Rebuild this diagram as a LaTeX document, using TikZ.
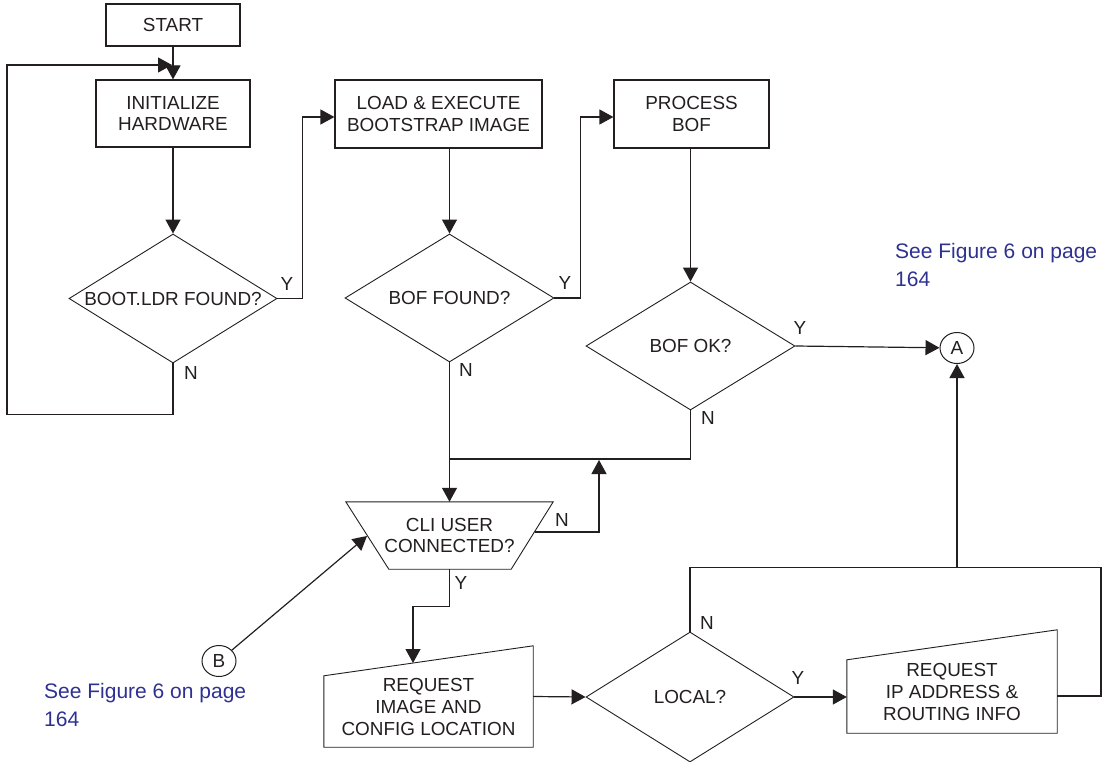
\documentclass[tikz,border=0pt]{standalone}
\usepackage{fontspec}
\setmainfont{Liberation Sans}
\usetikzlibrary{shapes.geometric,arrows.meta,calc}
\definecolor{ink}{RGB}{35,31,32}
\definecolor{refblue}{RGB}{46,49,146}
\begin{document}
\begin{tikzpicture}[x=1pt,y=-1pt,
  every node/.style={font=\fontsize{18.9}{21.7}\selectfont, text=ink},
  line/.style={draw=ink, line width=1.2pt},
  arr/.style={line, -{Triangle[length=14pt,width=15pt]}},
  box/.style={draw=ink, line width=1.2pt, rectangle, align=center, inner sep=0pt},
  dec/.style={draw=ink, line width=0.9pt, diamond, shape aspect=1.6, inner sep=0pt, align=center},
  conn/.style={draw=ink, line width=1pt, ellipse, minimum width=34pt, minimum height=31pt, inner sep=0pt},
  plain/.style={inner sep=0pt, align=center},
  lbl/.style={inner sep=0pt},
  note/.style={font=\fontsize{21}{28}\selectfont, text=refblue, align=left, inner sep=0pt},
  ]
\useasboundingbox (0,0) rectangle (1105,762);

% process boxes
\node[box, minimum width=134pt, minimum height=42pt] (start) at (173,25) {START};
\node[box, minimum width=154pt, minimum height=67pt] (init) at (173,113.5) {INITIALIZE\\HARDWARE};
\node[box, minimum width=207pt, minimum height=68pt] (load) at (438.5,114) {LOAD \& EXECUTE\\BOOTSTRAP IMAGE};
\node[box, minimum width=155pt, minimum height=68pt] (proc) at (691.5,114) {PROCESS\\BOF};

% decisions
\node[dec, minimum width=208pt, minimum height=129pt] (d1) at (173,298.5) {BOOT.LDR FOUND?};
\node[dec, minimum width=209pt, minimum height=128pt] (d2) at (449.5,298) {BOF FOUND?};
\node[dec, minimum width=209pt, minimum height=128pt] (d3) at (690.5,346) {BOF OK?};
\node[dec, minimum width=208pt, minimum height=130pt] (d4) at (690,697) {LOCAL?};

% CLI trapezoid
\node[plain, minimum width=207pt, minimum height=67pt] (cli) at (449.5,535.5) {CLI USER\\CONNECTED?};
\draw[line, line width=0.9pt] (cli.north west) -- (cli.north east) -- ([xshift=-42pt]cli.south east) -- ([xshift=43pt]cli.south west) -- cycle;

% manual input shapes
\node[plain, minimum width=209pt, minimum height=101pt,
  label={[align=center, inner sep=0pt, yshift=-10.5pt]center:REQUEST\\IMAGE AND\\CONFIG LOCATION}] (req1) at (428.5,696.5) {};
\draw[line, line width=0.9pt] (req1.south west) -- (req1.south east) -- (req1.north east) -- ([yshift=-30pt]req1.north west) -- cycle;
\node[plain, minimum width=210pt, minimum height=103pt,
  label={[align=center, inner sep=0pt, yshift=-10.5pt]center:REQUEST\\IP ADDRESS \&\\ROUTING INFO}] (req2) at (952,681.5) {};
\draw[line, line width=0.9pt] (req2.south west) -- (req2.south east) -- (req2.north east) -- ([yshift=-30pt]req2.north west) -- cycle;

% connectors (off-page)
\node[conn] (A) at (957,348) {A};
\node[conn] (B) at (219,661) {B};

% notes
\node[note, anchor=north west] (n1) at (895,243) {See Figure 6 on page\\164};
\node[note, anchor=north west] (n2) at (44,683) {See Figure 6 on page\\164};

% helper coordinates
\coordinate (loopc) at (172,65);
\coordinate (jn) at (450,459);
\coordinate (cliE) at (534.5,532);
\coordinate (cliW) at (367,536);
\coordinate (jn2) at (599,460);
\coordinate (req1in) at (413,663);
\coordinate (req2R) at (1057,696);
\coordinate (jA) at (957,568);

% flow
\draw[arr] (start) -- (init);
\draw[arr] (init) -- (d1);
\draw[arr] (d1.south) -- ++(0,51) -| ([xshift=-165pt]loopc) -- (loopc);
\draw[arr] (d1.east) -- ++(25,0) |- ([yshift=-3pt]load.west);
\draw[arr] (load.south -| d2.north) -- (d2.north);
\draw[arr] (d2.east) -- ++(26,0) |- ([yshift=-3pt]proc.west);
\draw[arr] (proc.south -| d3.north) -- (d3.north);
\draw[arr] (d3.east) -- (A);
\draw[line] (d3.south) |- (jn);
\draw[arr] (d2.south) -- (cli.north);
\draw[arr] (cliE) -| (jn2);
\draw[arr] (cli.south) -- ++(0,37) -| (req1in);
\draw[arr] (B) -- (cliW);
\draw[arr] (req1.east) -- (d4.west);
\draw[arr] (d4.east) -- (d4.east -| req2.west);
\draw[line] (d4.north) -- ++(0,-64) -| ([xshift=44pt]req2R) -- (req2R);
\draw[arr] (jA) -- (A);

% branch labels
\node[lbl] (y1) at (287,284) {Y};
\node[lbl] (n1l) at (191,373) {N};
\node[lbl] (y2) at (565,283) {Y};
\node[lbl] (n2l) at (466,370) {N};
\node[lbl] (y3) at (800,328) {Y};
\node[lbl] (n3l) at (708,418) {N};
\node[lbl] (n4l) at (562,520) {N};
\node[lbl] (y4) at (461,583) {Y};
\node[lbl] (n5l) at (707,623) {N};
\node[lbl] (y5) at (798,678) {Y};
\end{tikzpicture}
\end{document}
